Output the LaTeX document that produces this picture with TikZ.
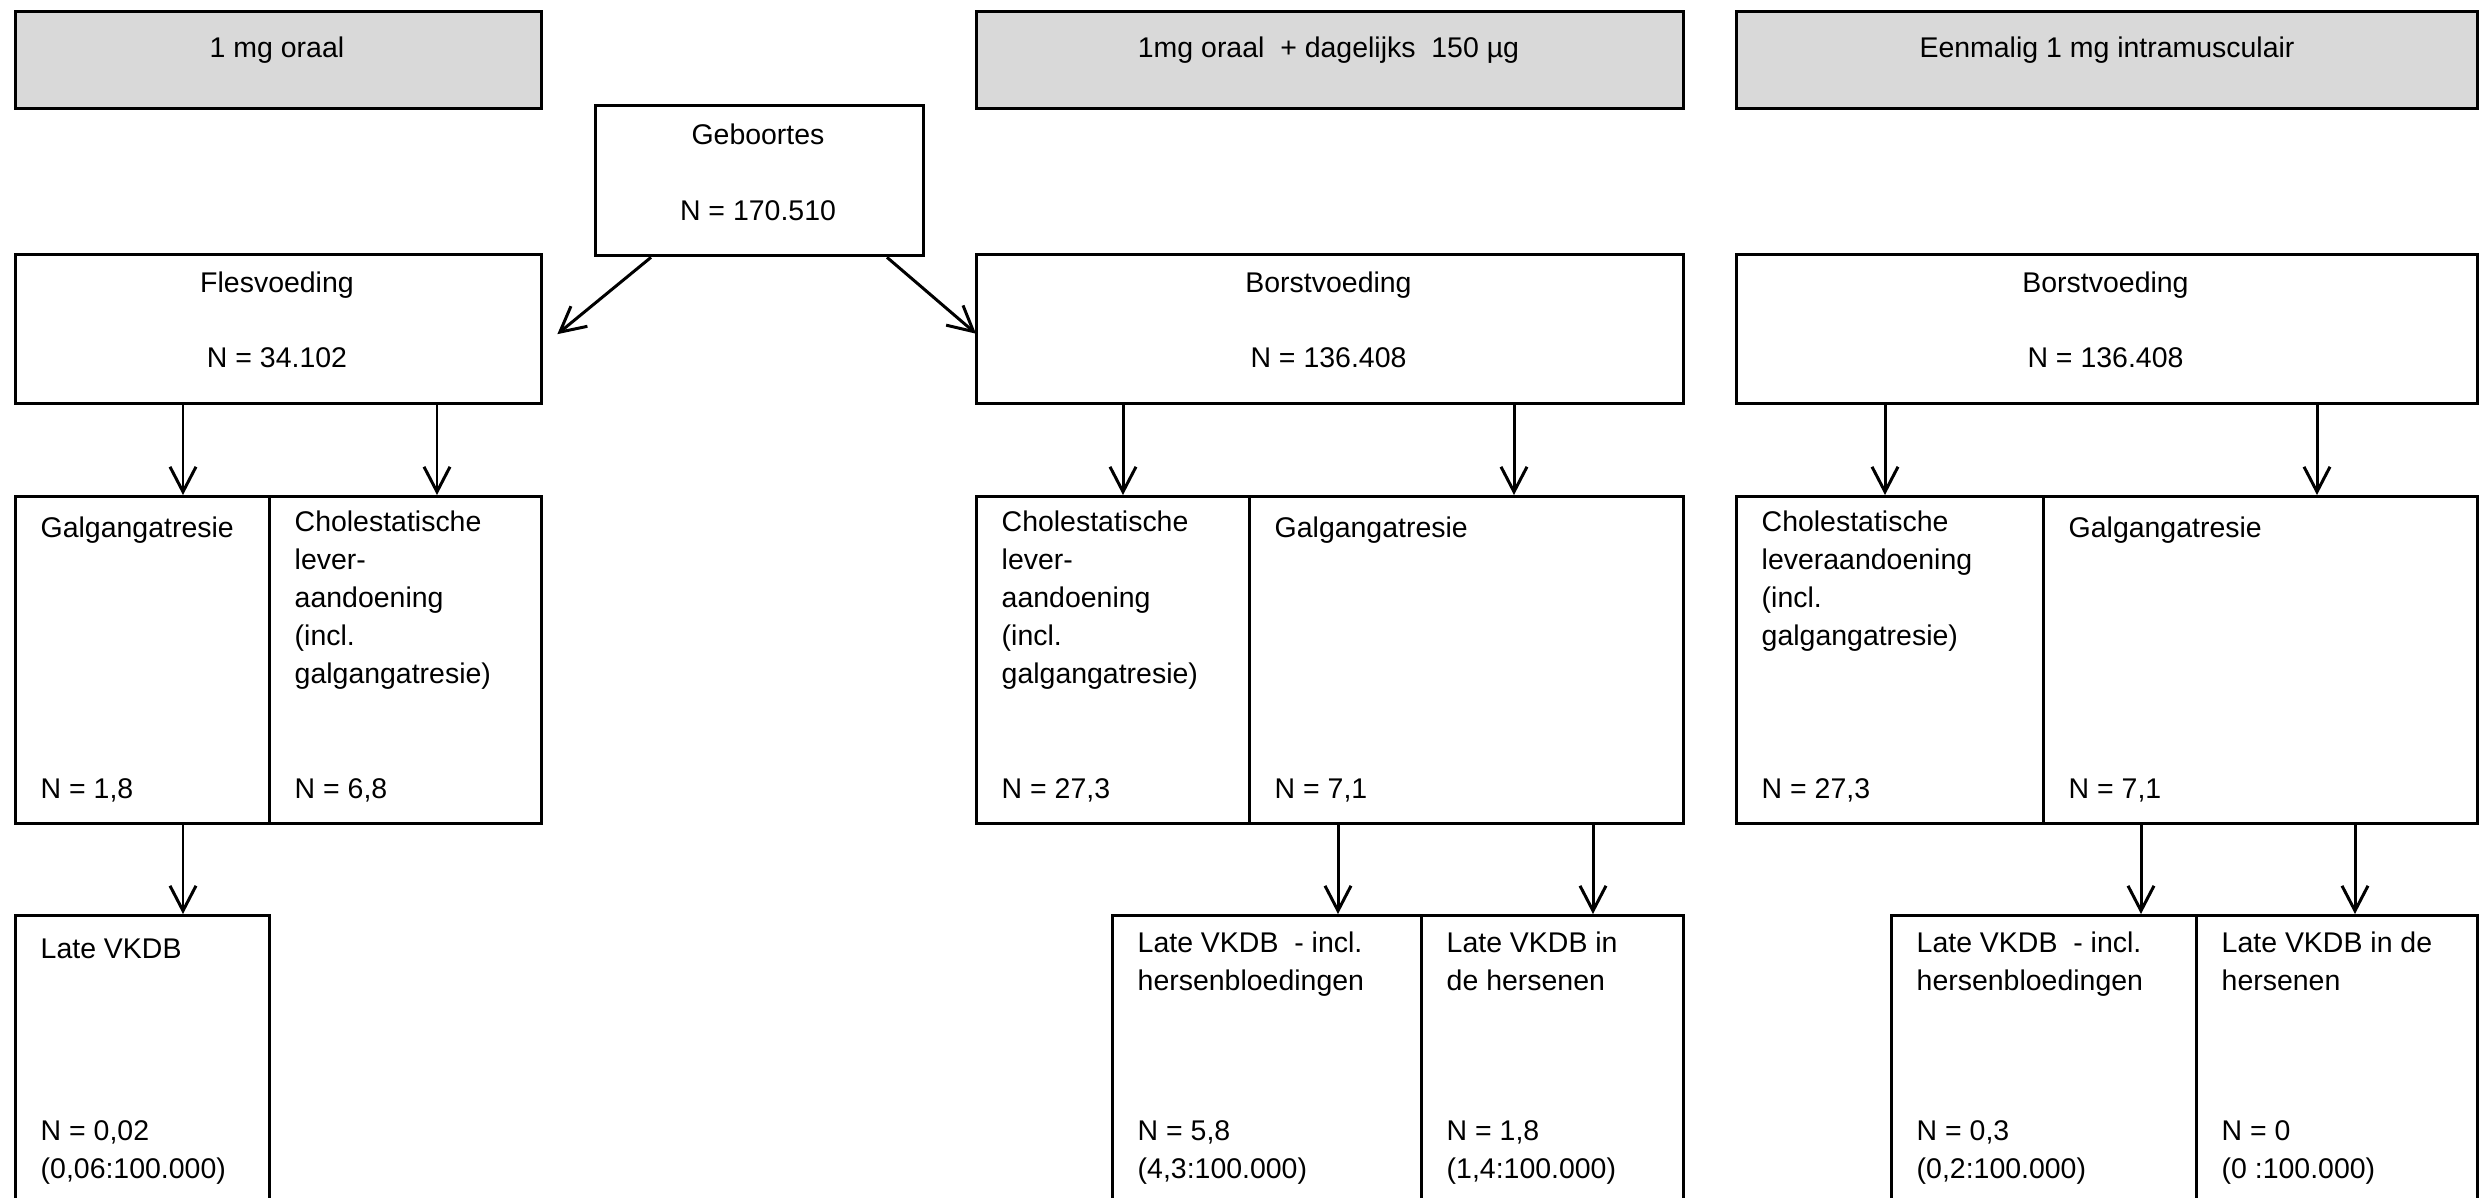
\documentclass[tikz,border=0pt]{standalone}
\usepackage{fontspec}
\setmainfont{Liberation Sans}
\usepackage{xcolor}
\usetikzlibrary{arrows.meta,calc,positioning}

\definecolor{kopgrijs}{HTML}{D9D9D9}

\tikzset{
	doos/.style={draw,line width=0.95pt,inner sep=0pt,anchor=north west},
	kop/.style={doos,fill=kopgrijs},
	tekst/.style={inner sep=0pt,font=\fontsize{8.1pt}{10.8pt}\selectfont,execute at begin node=\strut},
	midden/.style={tekst,anchor=north,align=center},
	links/.style={tekst,anchor=north west,align=left},
	pijl/.style={line width=0.85pt,-{Straight Barb[length=2.5mm,width=2.6mm]}}
}

\begin{document}
\begin{tikzpicture}
		\useasboundingbox (0,0) rectangle (24.81,-11.98);
		% kopjes
		\node[kop,minimum width=5.26cm,minimum height=0.97cm] (kop1) at (0.14,-0.10) {};
		\node[kop,minimum width=7.07cm,minimum height=0.97cm] (kop2) at (9.75,-0.10) {};
		\node[kop,minimum width=7.41cm,minimum height=0.97cm] (kop3) at (17.35,-0.10) {};
		\node[midden] (t-kop1) at (2.77,-0.303) {1 mg oraal};
		\node[midden] (t-kop2) at (13.285,-0.303) {1mg oraal\ \ + dagelijks\ \ 150 µg};
		\node[midden] (t-kop3) at (21.07,-0.303) {Eenmalig 1 mg intramusculair};
		% geboortes en voeding
		\node[doos,minimum width=3.28cm,minimum height=1.50cm] (geb) at (5.94,-1.04) {};
		\node[doos,minimum width=5.26cm,minimum height=1.49cm] (fles) at (0.14,-2.53) {};
		\node[doos,minimum width=7.07cm,minimum height=1.49cm] (borst2) at (9.75,-2.53) {};
		\node[doos,minimum width=7.41cm,minimum height=1.49cm] (borst3) at (17.35,-2.53) {};
		\node[midden] (t-geb) at (7.58,-1.233) {Geboortes\\[3.8mm]N = 170.510};
		\node[midden] (t-fles) at (2.77,-2.713) {Flesvoeding\\[3.7mm]N = 34.102};
		\node[midden] (t-borst2) at (13.285,-2.713) {Borstvoeding\\[3.7mm]N = 136.408};
		\node[midden] (t-borst3) at (21.055,-2.713) {Borstvoeding\\[3.7mm]N = 136.408};
		% leveraandoeningen
		\node[doos,minimum width=2.54cm,minimum height=3.27cm] (gal1) at (0.14,-4.95) {};
		\node[doos,minimum width=2.72cm,minimum height=3.27cm] (chol1) at (2.68,-4.95) {};
		\node[doos,minimum width=2.73cm,minimum height=3.27cm] (chol2) at (9.75,-4.95) {};
		\node[doos,minimum width=4.34cm,minimum height=3.27cm] (gal2) at (12.48,-4.95) {};
		\node[doos,minimum width=3.07cm,minimum height=3.27cm] (chol3) at (17.35,-4.95) {};
		\node[doos,minimum width=4.34cm,minimum height=3.27cm] (gal3) at (20.42,-4.95) {};
		\node[links] (t-gal1) at (0.40,-5.103) {Galgangatresie};
		\node[links] (t-chol1) at (2.94,-5.103) {Cholestatische\\lever-\\aandoening\\(incl.\\galgangatresie)};
		\node[links] (t-chol2) at (10.01,-5.103) {Cholestatische\\lever-\\aandoening\\(incl.\\galgangatresie)};
		\node[links] (t-gal2) at (12.74,-5.103) {Galgangatresie};
		\node[links] (t-chol3) at (17.61,-5.103) {Cholestatische\\leveraandoening\\(incl.\\galgangatresie)};
		\node[links] (t-gal3) at (20.68,-5.103) {Galgangatresie};
		\node[links] (n-gal1) at (0.40,-7.713) {N = 1,8};
		\node[links] (n-chol1) at (2.94,-7.713) {N = 6,8};
		\node[links] (n-chol2) at (10.01,-7.713) {N = 27,3};
		\node[links] (n-gal2) at (12.74,-7.713) {N = 7,1};
		\node[links] (n-chol3) at (17.61,-7.713) {N = 27,3};
		\node[links] (n-gal3) at (20.68,-7.713) {N = 7,1};
		% late VKDB
		\node[doos,minimum width=2.54cm,minimum height=3.0cm] (late1) at (0.14,-9.14) {};
		\node[doos,minimum width=3.09cm,minimum height=3.0cm] (late2a) at (11.11,-9.14) {};
		\node[doos,minimum width=2.62cm,minimum height=3.0cm] (late2b) at (14.20,-9.14) {};
		\node[doos,minimum width=3.05cm,minimum height=3.0cm] (late3a) at (18.90,-9.14) {};
		\node[doos,minimum width=2.81cm,minimum height=3.0cm] (late3b) at (21.95,-9.14) {};
		\node[links] (t-late1) at (0.40,-9.313) {Late VKDB};
		\node[links] (t-late2a) at (11.37,-9.313) {Late VKDB\ \ - incl.\\hersenbloedingen};
		\node[links] (t-late2b) at (14.46,-9.313) {Late VKDB in\\de hersenen};
		\node[links] (t-late3a) at (19.16,-9.313) {Late VKDB\ \ - incl.\\hersenbloedingen};
		\node[links] (t-late3b) at (22.21,-9.313) {Late VKDB in de\\hersenen};
		\node[links] (n-late1) at (0.40,-11.203) {N = 0,02\\(0,06:100.000)};
		\node[links] (n-late2a) at (11.37,-11.203) {N = 5,8\\(4,3:100.000)};
		\node[links] (n-late2b) at (14.46,-11.203) {N = 1,8\\(1,4:100.000)};
		\node[links] (n-late3a) at (19.16,-11.203) {N = 0,3\\(0,2:100.000)};
		\node[links] (n-late3b) at (22.21,-11.203) {N = 0\\(0 :100.000)};
		% pijlen
		\coordinate (xa) at (6.51,0);
		\coordinate (xb) at (8.87,0);
		\draw[pijl] (geb.south -| xa) -- ([xshift=1.4mm,yshift=-0.5mm]fles.east);
		\draw[pijl] (geb.south -| xb) -- ([xshift=0.1mm,yshift=-0.45mm]borst2.west);
		\coordinate (x1) at (1.83,0);
		\coordinate (x2) at (4.37,0);
		\coordinate (x3) at (11.23,0);
		\coordinate (x4) at (15.14,0);
		\coordinate (x5) at (18.85,0);
		\coordinate (x6) at (23.17,0);
		\draw[pijl] (fles.south -| x1) -- (gal1.north -| x1);
		\draw[pijl] (fles.south -| x2) -- (chol1.north -| x2);
		\draw[pijl] (borst2.south -| x3) -- (chol2.north -| x3);
		\draw[pijl] (borst2.south -| x4) -- (gal2.north -| x4);
		\draw[pijl] (borst3.south -| x5) -- (chol3.north -| x5);
		\draw[pijl] (borst3.south -| x6) -- (gal3.north -| x6);
		\coordinate (x7) at (13.38,0);
		\coordinate (x8) at (15.93,0);
		\coordinate (x9) at (21.41,0);
		\coordinate (x10) at (23.55,0);
		\draw[pijl] (gal1.south -| x1) -- (late1.north -| x1);
		\draw[pijl] (gal2.south -| x7) -- (late2a.north -| x7);
		\draw[pijl] (gal2.south -| x8) -- (late2b.north -| x8);
		\draw[pijl] (gal3.south -| x9) -- (late3a.north -| x9);
		\draw[pijl] (gal3.south -| x10) -- (late3b.north -| x10);
\end{tikzpicture}
\end{document}
